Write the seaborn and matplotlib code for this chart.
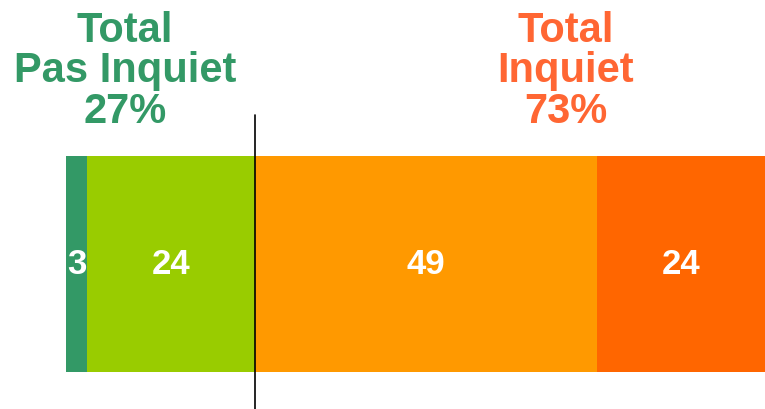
import numpy as np
import pandas as pd
import seaborn as sns
import matplotlib.pyplot as plt

# segment values, left to right
segments = ['Pas du tout inquiet', 'Plutôt pas inquiet', 'Plutôt inquiet', 'Très inquiet']
values = [3, 24, 49, 24]
colors = ['#339966', '#99CC00', '#FF9900', '#FF6600']

totals_labels = ['Total\nPas Inquiet\n27%', 'Total\nInquiet\n73%']
totals_colors = ['#339966', '#FF6633']

sns.set_style('white')
plt.rcParams['font.family'] = ['Liberation Sans', 'DejaVu Sans']

fig = plt.figure(figsize=(7.65, 4.09), dpi=100)
ax = fig.add_axes([66 / 765, 37 / 409, 1 - 66 / 765, 216 / 409])

# stacked bar: draw cumulative sums from longest to shortest
cum = np.cumsum(values)
df = pd.DataFrame({'row': ['q'] * len(values), 'cum': cum, 'seg': segments})
for i in range(len(values) - 1, -1, -1):
    sns.barplot(x='cum', y='row', data=df.iloc[[i]], color=colors[i],
                orient='h', width=1.0, saturation=1, linewidth=0,
                edgecolor='none', ax=ax)

starts = cum - np.array(values)
for s, v in zip(starts, values):
    ax.text(s + v / 2, 0, str(v), ha='center', va='center', color='white',
            fontsize=25, fontweight='bold')

ax.set_xlim(0, 100)
ax.set_ylim(0.5, -0.5)
ax.axis('off')

# divider between "pas inquiet" and "inquiet"
split = values[0] + values[1]
ax.axvline(split, ymin=-0.175, ymax=1.19, color='black', linewidth=1.2, clip_on=False)

# headline totals
for cx, label, col in zip([125, 566], totals_labels, totals_colors):
    for line, base in zip(label.split('\n'), [42, 82, 123]):
        fig.text(cx / 765, 1 - base / 409, line, ha='center', va='baseline',
                 color=col, fontsize=30, fontweight='bold')

plt.savefig('out.png', dpi=100)
